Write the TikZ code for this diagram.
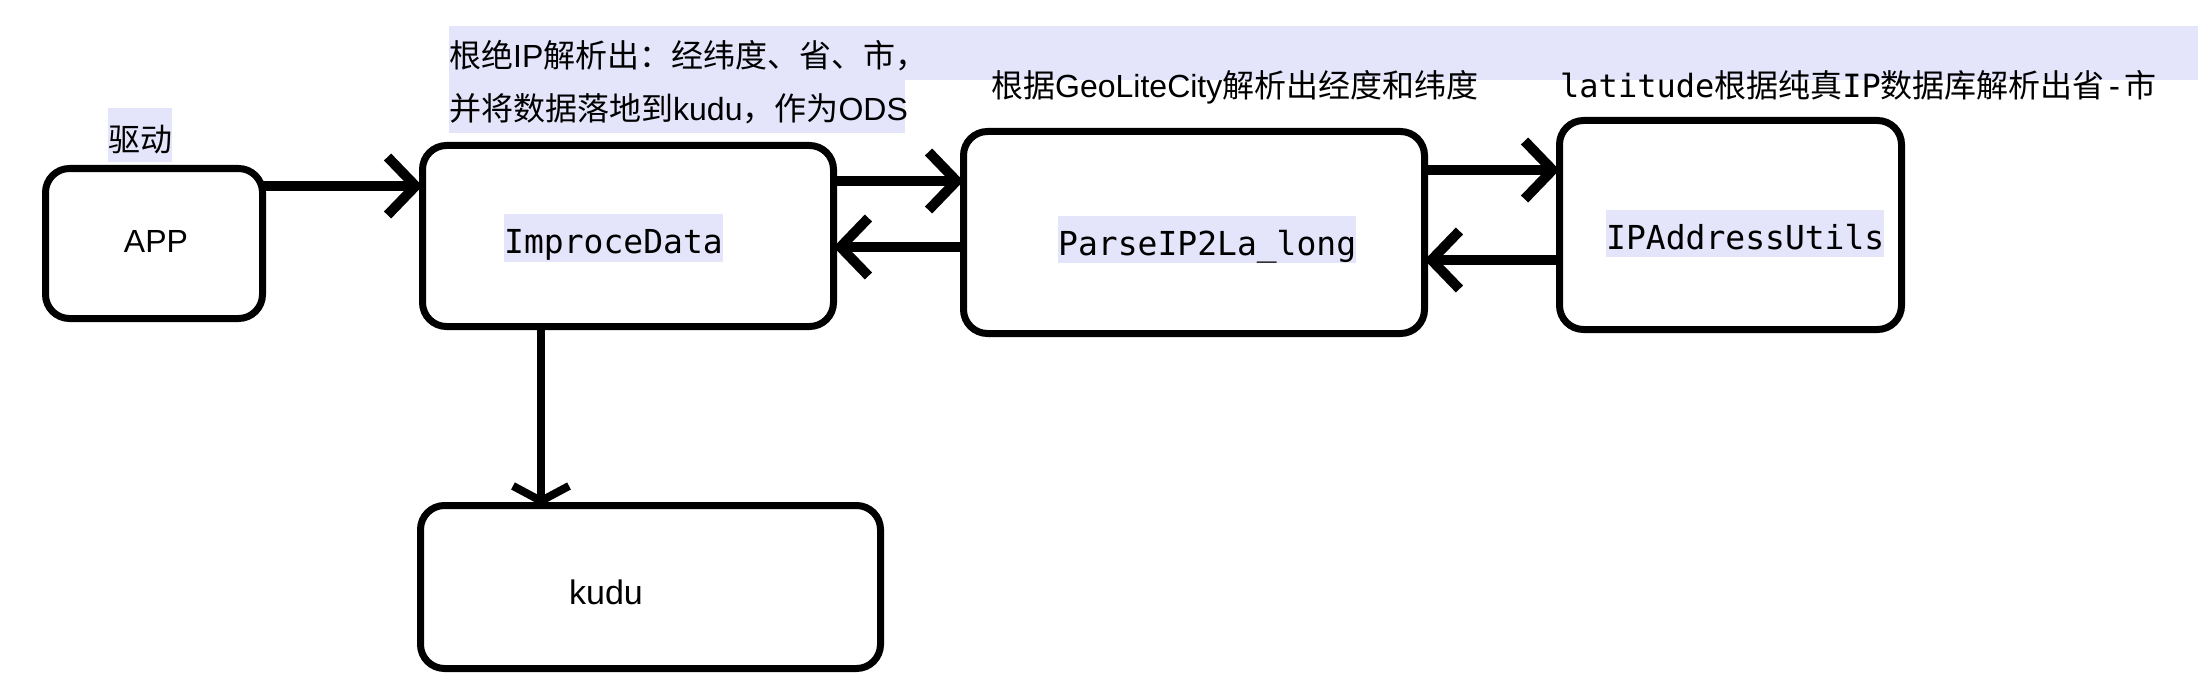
\documentclass[tikz,border=0pt]{standalone}
\usepackage{fontspec}
\setmainfont{Liberation Sans}
\newfontfamily\cjkf{Noto Sans CJK SC}
\newfontfamily\monof{DejaVu Sans Mono}
\usetikzlibrary{arrows.meta}
\definecolor{lav}{RGB}{228,228,250}
\begin{document}
\begin{tikzpicture}[x=1pt,y=-1pt,
  box/.style={draw, line width=7pt, rounded corners=24pt, inner sep=0pt, outer sep=0pt},
  conn/.style={line width=10pt, -{Straight Barb[length=28pt,width=58pt]}},
  vconn/.style={line width=8pt, -{Straight Barb[length=15pt,width=56pt]}},
  lbl/.style={font=\monof\fontsize{33}{40}\selectfont, fill=lav, inner sep=0pt, text height=39pt, text depth=9pt, anchor=base west},
  txt/.style={font=\fontsize{32}{40}\selectfont, inner sep=0pt, anchor=base west},
  plain/.style={inner sep=0pt, anchor=base},
]
\useasboundingbox (0,0) rectangle (2198,698);
% highlight band
\fill[lav] (449,26) rectangle (2198,80);
\fill[lav] (449,26) rectangle (905,133);
% boxes
\node[box, minimum width=217pt, minimum height=150pt] (app) at (154,243.5) {};
\node[box, minimum width=411pt, minimum height=181pt] (improce) at (628,236) {};
\node[box, minimum width=461pt, minimum height=202pt] (parse) at (1194,232.5) {};
\node[box, minimum width=342pt, minimum height=209pt] (ipa) at (1730.5,225) {};
\node[box, minimum width=460pt, minimum height=163pt] (kudu) at (650.5,587) {};
% labels
\node[plain, font=\fontsize{32}{40}\selectfont] (applbl) at (156,252) {APP};
\node[plain, font=\fontsize{34}{40}\selectfont] (kudulbl) at (606,604) {kudu};
\node[lbl] (improcelbl) at (504,253) {ImproceData};
\node[lbl, text depth=8pt] (parselbl) at (1058,255) {ParseIP2La\_long};
\node[lbl, text depth=8pt] (ipalbl) at (1606,249) {IPAddressUtils};
% annotations
\node[txt, fill=lav, text height=43pt, text depth=11pt] (drive) at (108,151) {\cjkf 驱动};
\node[txt] (note1a) at (449,68) {{\cjkf 根绝}IP{\cjkf 解析出：经纬度、省、市，}};
\node[txt] (note1b) at (449,121) {{\cjkf 并将数据落地到}kudu{\cjkf ，作为}ODS};
\node[txt] (note2) at (991,98) {{\cjkf 根据}GeoLiteCity{\cjkf 解析出经度和纬度}};
\node[txt] (note3) at (1560,98) {{\monof latitude}{\cjkf 根据纯真}{\monof IP}{\cjkf 数据库解析出省}{\monof -}{\cjkf 市}};
% connectors
\coordinate (y1) at (0,186);
\coordinate (y2) at (0,181);
\coordinate (y3) at (0,247);
\coordinate (y4) at (0,170);
\coordinate (y5) at (0,260);
\coordinate (x6) at (541,0);
\draw[conn] (app.east |- y1) -- (improce.west |- y1);
\draw[conn] (improce.east |- y2) -- (parse.west |- y2);
\draw[conn] (parse.west |- y3) -- (improce.east |- y3);
\draw[conn] (parse.east |- y4) -- (ipa.west |- y4);
\draw[conn] (ipa.west |- y5) -- (parse.east |- y5);
\draw[vconn] (improce.south -| x6) -- (kudu.north -| x6);
\end{tikzpicture}
\end{document}
